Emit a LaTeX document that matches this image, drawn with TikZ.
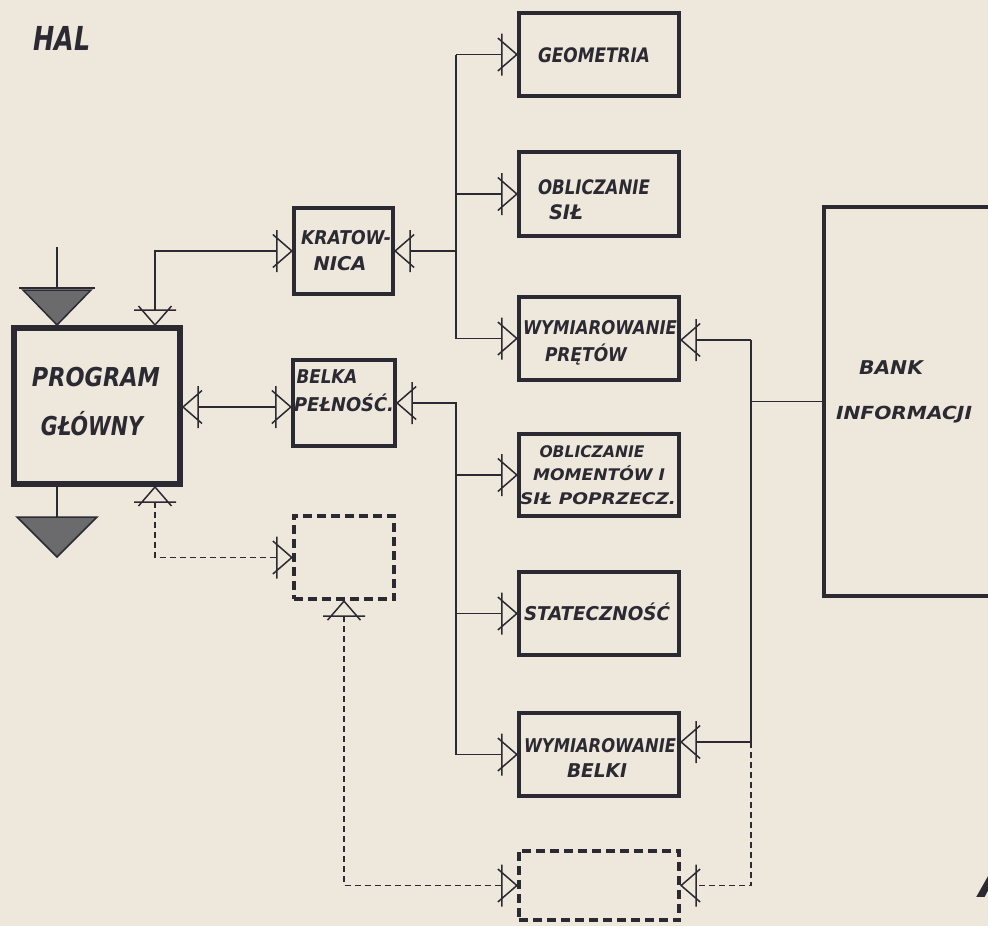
\documentclass[tikz,border=0pt]{standalone}
\usepackage{fontspec}
\usepackage{graphicx}
\setmainfont{DejaVu Sans}
\usetikzlibrary{arrows.meta}
\definecolor{ink}{HTML}{2B2A33}
\definecolor{paper}{HTML}{EDE8DB}
\definecolor{fillg}{HTML}{6B6B6E}
\newcommand\tw[3]{{\fontsize{#2}{#2}\selectfont\bfseries\itshape\resizebox{#1}{\height}{#3}}}
\pgfdeclarearrow{
  name=Ytip,
  setup code={%
    \pgfarrowssettipend{0pt}%
    \pgfarrowssetlineend{-15pt}%
    \pgfarrowssetbackend{-19pt}%
    \pgfarrowsupperhullpoint{-19pt}{21pt}%
    \pgfarrowshullpoint{0pt}{0pt}%
  },
  drawing code={%
    \pgfsetdash{}{0pt}%
    \pgfpathmoveto{\pgfpoint{-19pt}{16.5pt}}%
    \pgfpathlineto{\pgfpoint{0pt}{0pt}}%
    \pgfpathlineto{\pgfpoint{-19pt}{-16.5pt}}%
    \pgfpathmoveto{\pgfpoint{-15pt}{21pt}}%
    \pgfpathlineto{\pgfpoint{-15pt}{-21pt}}%
    \pgfusepathqstroke
  },
}
\begin{document}
\begin{tikzpicture}[x=1pt,y=-1pt,
  box/.style={draw=ink,line width=3.8pt,inner sep=0pt},
  dbox/.style={box,dash pattern=on 9pt off 5pt},
  conn/.style={draw=ink,line width=1.5pt},
  dconn/.style={conn,dash pattern=on 6pt off 4pt},
  txt/.style={inner sep=0pt,anchor=base,text=ink}]
\fill[paper] (0,0) rectangle (988,926);
\useasboundingbox (0,0) rectangle (988,926);

\coordinate (xa) at (155,0);
\coordinate (xb) at (57,0);
\coordinate (xbus) at (456,0);
\coordinate (xr) at (751,0);
\coordinate (ybel) at (0,407);
\coordinate (ypr) at (0,340);
\coordinate (ybl) at (0,742);

% boxes
\node[box,line width=6pt,minimum width=166pt,minimum height=156pt] (pg) at (97,406) {};
\node[box,minimum width=99.5pt,minimum height=86.5pt] (krat) at (343.5,251) {};
\node[box,minimum width=102.5pt,minimum height=86.5pt] (belka) at (344,403) {};
\node[dbox,minimum width=100.5pt,minimum height=83.5pt] (dsmall) at (344,557.5) {};
\node[box,minimum width=160.5pt,minimum height=83.5pt] (geo) at (599,54.5) {};
\node[box,minimum width=160.5pt,minimum height=84.5pt] (sil) at (599,194) {};
\node[box,minimum width=160.5pt,minimum height=83.5pt] (pret) at (599,338.5) {};
\node[box,minimum width=160.5pt,minimum height=82.5pt] (mom) at (599,475) {};
\node[box,minimum width=160.5pt,minimum height=83.5pt] (stat) at (599,613.5) {};
\node[box,minimum width=160.5pt,minimum height=83.5pt] (belki) at (599,754.5) {};
\node[dbox,minimum width=160.5pt,minimum height=69.5pt] (dbig) at (599,885.5) {};
\node[box,minimum width=186.5pt,minimum height=389.5pt] (bank) at (917,401.5) {};

% texts
\node[txt] (t-hal) at (62,50) {\tw{57pt}{33pt}{HAL}};
\node[txt] (t-pg1) at (96,386) {\tw{128pt}{26pt}{PROGRAM}};
\node[txt] (t-pg2) at (92,435) {\tw{102pt}{26pt}{GŁÓWNY}};
\node[txt] (t-kr1) at (346,244) {\tw{90pt}{19pt}{KRATOW-}};
\node[txt] (t-kr2) at (340,270) {\tw{53pt}{19pt}{NICA}};
\node[txt] (t-be1) at (327,383) {\tw{61pt}{19pt}{BELKA}};
\node[txt] (t-be2) at (344,411) {\tw{100pt}{19pt}{PEŁNOŚĆ.}};
\node[txt] (t-geo) at (594,62) {\tw{112pt}{20pt}{GEOMETRIA}};
\node[txt] (t-si1) at (594,194) {\tw{112pt}{20pt}{OBLICZANIE}};
\node[txt] (t-si2) at (566,219) {\tw{34pt}{20pt}{SIŁ}};
\node[txt] (t-pr1) at (600,334) {\tw{154pt}{19pt}{WYMIAROWANIE}};
\node[txt] (t-pr2) at (586,361) {\tw{82pt}{19pt}{PRĘTÓW}};
\node[txt] (t-mo1) at (592,457) {\tw{105pt}{16pt}{OBLICZANIE}};
\node[txt] (t-mo2) at (599,480) {\tw{132pt}{16pt}{MOMENTÓW I}};
\node[txt] (t-mo3) at (598,504) {\tw{156pt}{16pt}{SIŁ POPRZECZ.}};
\node[txt] (t-st) at (597,620) {\tw{146pt}{19pt}{STATECZNOŚĆ}};
\node[txt] (t-bl1) at (600,752) {\tw{152pt}{19pt}{WYMIAROWANIE}};
\node[txt] (t-bl2) at (597,777) {\tw{60pt}{19pt}{BELKI}};
\node[txt] (t-ba1) at (891,374) {\tw{64pt}{19pt}{BANK}};
\node[txt] (t-ba2) at (904,419) {\tw{136pt}{18pt}{INFORMACJI}};
\node[txt,anchor=base west] (t-a) at (979,897) {\fontsize{44pt}{44pt}\selectfont\bfseries\itshape A};

% input / output triangles of the main program
\coordinate (t1) at (pg.north -| xb);
\path (t1) ++(0,-37) coordinate (tb) ++(0,-41) coordinate (tt);
\draw[conn] (tt) -- (tb);
\draw[conn] (tb) ++(-38,0) -- ++(76,0);
\filldraw[fill=fillg,draw=ink,line width=1.5pt] (tb) ++(-34,2) -- ++(68,0) -- (t1) -- cycle;
\coordinate (b1) at (pg.south -| xb);
\draw[conn] (b1) -- ++(0,30) coordinate (bb);
\filldraw[fill=fillg,draw=ink,line width=1.5pt] (bb) ++(-40,0) -- ++(80,0) -- ++(-40,40) -- cycle;

% connectors
\draw[conn,Ytip-Ytip] (pg.north -| xa) |- (krat.west);
\draw[conn,Ytip-Ytip] (pg.east |- ybel) -- (belka.west |- ybel);
\draw[dconn,Ytip-Ytip] (pg.south -| xa) |- (dsmall.west);

\draw[conn,Ytip-] (krat.east) -- (krat.east -| xbus);
\draw[conn] (xbus |- geo.west) -- (xbus |- pret.west);
\foreach \n in {geo,sil,pret} \draw[conn,-Ytip] (xbus |- \n.west) -- (\n.west);

\draw[conn,Ytip-] (belka.east) -- (belka.east -| xbus) -- (xbus |- belki.west);
\foreach \n in {mom,stat,belki} \draw[conn,-Ytip] (xbus |- \n.west) -- (\n.west);

\draw[conn] (bank.west) -- (bank.west -| xr);
\draw[conn] (xr |- ypr) -- (xr |- ybl);
\draw[conn,-Ytip] (xr |- ypr) -- (pret.east |- ypr);
\draw[conn,-Ytip] (xr |- ybl) -- (belki.east |- ybl);
\draw[dconn,-Ytip] (xr |- ybl) |- (dbig.east);
\draw[dconn,Ytip-Ytip] (dsmall.south) |- (dbig.west);
\end{tikzpicture}
\end{document}
